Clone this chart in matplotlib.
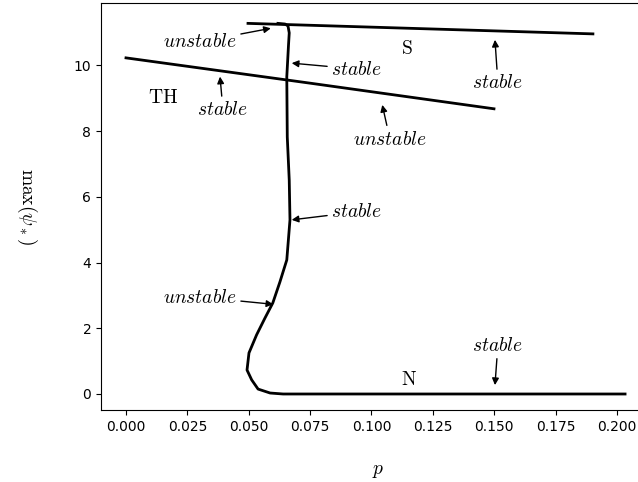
import numpy as np
import matplotlib
matplotlib.use("Agg")
import matplotlib.pyplot as plt

plt.rcParams['mathtext.fontset'] = 'cm'

# branch N -> turning point -> upper knee (one continuous curve)
p_n = [0.2033, 0.0640, 0.0587, 0.0538, 0.0512, 0.0493, 0.0501, 0.0532, 0.0566,
       0.0598, 0.0627, 0.0655, 0.0668, 0.0665, 0.0657, 0.0655, 0.0662, 0.0665,
       0.0660, 0.0648, 0.0619]
y_n = [0.0, 0.0, 0.03, 0.15, 0.43, 0.73, 1.25, 1.80, 2.31,
       2.77, 3.41, 4.08, 5.30, 6.51, 7.82, 9.65, 10.62, 10.99,
       11.20, 11.26, 11.28]

# branch S (upper)
p_s = [0.0497, 0.1902]
y_s = [11.28, 10.96]

# branch TH
p_th = [0.0, 0.075, 0.1499]
y_th = [10.23, 9.46, 8.68]

# annotations: label, text position, arrow tip
ann_labels = ["unstable", "stable", "stable", "stable", "unstable",
              "stable", "unstable", "stable"]
ann_text = [(0.0301, 10.72), (0.094, 9.89), (0.0395, 8.65), (0.1515, 9.47),
            (0.1075, 7.76), (0.094, 5.54), (0.0301, 2.95), (0.1515, 1.49)]
ann_tip = [(0.059, 11.13), (0.0675, 10.07), (0.0383, 9.66), (0.1503, 10.78),
           (0.1044, 8.80), (0.0675, 5.30), (0.060, 2.73), (0.1503, 0.27)]

names = ["TH", "S", "N"]
name_pos = [(0.0151, 9.01), (0.1145, 10.53), (0.1153, 0.43)]

fig = plt.figure(figsize=(6.38, 4.82), dpi=100)
ax = fig.add_axes([101/638, 1 - 410/482, 555/638, 407/482])

ax.plot(p_n, y_n, color='black', lw=2)
ax.plot(p_s, y_s, color='black', lw=2)
ax.plot(p_th, y_th, color='black', lw=2)

for lab, (tx, ty), (ax_, ay) in zip(ann_labels, ann_text, ann_tip):
    ax.annotate("$" + lab + "$", xy=(ax_, ay), xytext=(tx, ty),
                ha='center', va='center', fontsize=14,
                arrowprops=dict(arrowstyle='-|>', color='black', lw=1,
                                mutation_scale=10, shrinkA=1, shrinkB=0))

for nm, (x, y) in zip(names, name_pos):
    ax.text(x, y, r"$\mathrm{" + nm + "}$", ha='center', va='center', fontsize=14)

ax.set_xlim(-0.01018, 0.2159)
ax.set_ylim(-0.487, 11.90)
ax.set_xticks(np.arange(0, 0.201, 0.025))
ax.set_yticks([0, 2, 4, 6, 8, 10])
ax.tick_params(labelsize=10)

ax.set_xlabel("$p$", fontsize=14, labelpad=20)
ax.set_ylabel(r"$\max(\psi_*)$", fontsize=14, rotation=270, labelpad=42)

plt.savefig("out.png", dpi=100)
